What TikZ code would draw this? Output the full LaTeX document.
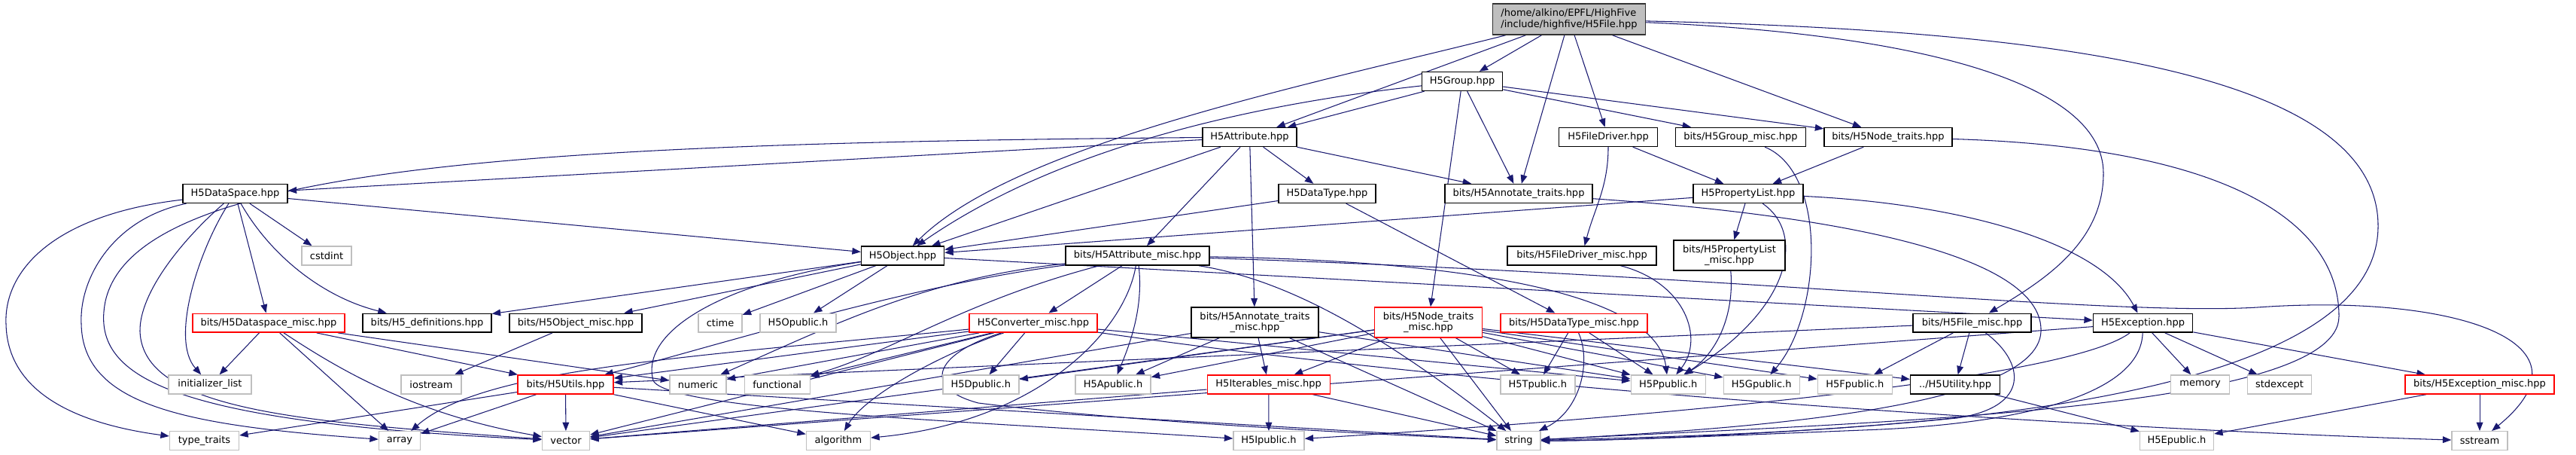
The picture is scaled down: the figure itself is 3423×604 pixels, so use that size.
\documentclass[tikz,border=0pt]{standalone}
\usepackage{fontspec}
\setmainfont{DejaVu Sans}
\usetikzlibrary{arrows.meta,backgrounds}
\definecolor{edgec}{RGB}{25,25,112}
\definecolor{grayb}{RGB}{191,191,191}
\definecolor{rootfill}{RGB}{191,191,191}
\begin{document}
\begin{tikzpicture}[x=0.02cm,y=-0.02cm,
  nbase/.style={draw, fill=white, line width=0.8pt, inner sep=1pt, minimum height=0.5cm, font=\fontsize{7.4}{8.1}\selectfont, text=black, align=center},
  bk/.style={nbase, draw=black},
  gr/.style={nbase, draw=grayb},
  rd/.style={nbase, draw=red},
  two/.style={minimum height=0.8cm},
  rootbox/.style={nbase, draw=black!80, fill=rootfill, minimum height=0.82cm, align=left},
  bw/.style={minimum width=#1*0.02cm},
  ed/.style={draw=edgec, line width=0.6pt, -{Triangle[length=6.5pt,width=5pt]}}]
\useasboundingbox (0,0) rectangle (3423,604);
% ---------- nodes ----------
\node[rootbox, bw=203] (root) at (2085,25.5) {/home/alkino/EPFL/HighFive\\/include/highfive/H5File.hpp};
\node[bk, bw=107] (grp) at (1943,108) {H5Group.hpp};
\node[bk, bw=125] (attr) at (1660.5,182) {H5Attribute.hpp};
\node[bk, bw=131] (fd) at (2137,182) {H5FileDriver.hpp};
\node[bk, bw=173] (gm) at (2313,182) {bits/H5Group\_misc.hpp};
\node[bk, bw=170] (nt) at (2509,182) {bits/H5Node\_traits.hpp};
\node[bk, bw=139] (ds) at (312.5,257) {H5DataSpace.hpp};
\node[bk, bw=129] (dt) at (1763.5,257) {H5DataType.hpp};
\node[bk, bw=196] (at) at (2018,257) {bits/H5Annotate\_traits.hpp};
\node[bk, bw=146] (pl) at (2323,257) {H5PropertyList.hpp};
\node[gr, bw=66] (cst) at (434,339.5) {cstdint};
\node[bk, bw=110] (obj) at (1199.5,339.5) {H5Object.hpp};
\node[bk, bw=191] (am) at (1511.5,339.5) {bits/H5Attribute\_misc.hpp};
\node[bk, bw=198] (fdm) at (2102,339.5) {bits/H5FileDriver\_misc.hpp};
\node[bk, two, bw=148] (plm) at (2298,339) {bits/H5PropertyList\\\_misc.hpp};
\node[rd, bw=202] (dsm) at (357,428.7) {bits/H5Dataspace\_misc.hpp};
\node[bk, bw=171] (hdef) at (567.5,428.7) {bits/H5\_definitions.hpp};
\node[bk, bw=176] (om) at (765,428.7) {bits/H5Object\_misc.hpp};
\node[gr, bw=58] (ctime) at (957,428.7) {ctime};
\node[gr, bw=101] (opub) at (1060.5,428.7) {H5Opublic.h};
\node[rd, bw=170] (conv) at (1373,428.7) {H5Converter\_misc.hpp};
\node[bk, two, bw=169] (atm) at (1667.5,428) {bits/H5Annotate\_traits\\\_misc.hpp};
\node[rd, two, bw=143] (ntm) at (1898,428) {bits/H5Node\_traits\\\_misc.hpp};
\node[rd, bw=195] (dtm) at (2091.5,428.7) {bits/H5DataType\_misc.hpp};
\node[bk, bw=157] (fm) at (2620.5,428.7) {bits/H5File\_misc.hpp};
\node[bk, bw=132] (exc) at (2847.5,428.7) {H5Exception.hpp};
\node[gr, bw=110] (il) at (279,510.5) {initializer\_list};
\node[gr, bw=80] (ios) at (573,510.5) {iostream};
\node[rd, bw=127] (utl) at (751.5,510.5) {bits/H5Utils.hpp};
\node[gr, bw=75] (num) at (927.5,510.5) {numeric};
\node[gr, bw=87] (func) at (1032.7,510.5) {functional};
\node[gr, bw=101] (dpub) at (1303.3,510.5) {H5Dpublic.h};
\node[gr, bw=100] (apub) at (1479,510.5) {H5Apublic.h};
\node[rd, bw=163] (itm) at (1685.7,510.5) {H5Iterables\_misc.hpp};
\node[gr, bw=99] (tpub) at (2043.3,510.5) {H5Tpublic.h};
\node[gr, bw=99] (ppub) at (2216.7,510.5) {H5Ppublic.h};
\node[gr, bw=101] (gpub) at (2340.7,510.5) {H5Gpublic.h};
\node[gr, bw=99] (fpub) at (2464.8,510.5) {H5Fpublic.h};
\node[bk, bw=119] (uty) at (2598,510.5) {../H5Utility.hpp};
\node[gr, bw=78] (mem) at (2923.5,510.5) {memory};
\node[gr, bw=85] (stde) at (3029,510.5) {stdexcept};
\node[rd, bw=198] (excm) at (3295,510.5) {bits/H5Exception\_misc.hpp};
\node[gr, bw=92] (tt) at (271.5,585.2) {type\_traits};
\node[gr, bw=55] (arr) at (531,585.2) {array};
\node[gr, bw=63] (vec) at (752,585.2) {vector};
\node[gr, bw=85] (alg) at (1114,585.2) {algorithm};
\node[gr, bw=94] (ipub) at (1686,585.2) {H5Ipublic.h};
\node[gr, bw=58] (str) at (2018,585.2) {string};
\node[gr, bw=98] (epub) at (2892.5,585.2) {H5Epublic.h};
\node[gr, bw=74] (ss) at (3295,585.2) {sstream};
% ---------- edges ----------
\begin{pgfonlayer}{background}
% H5File
\draw[ed] (root) -- (grp);
\draw[ed] (root) -- (attr);
\draw[ed] (root) .. controls (1750,110) and (1350,190) .. (obj);
\draw[ed] (root) -- (at);
\draw[ed] (root) -- (fd);
\draw[ed] (root) -- (nt);
\draw[ed] (root) .. controls (2550,45) and (2795,110) .. (2795,230) .. controls (2795,320) and (2720,370) .. (fm);
\draw[ed] (root) .. controls (2700,40) and (3160,90) .. (3160,300) .. controls (3160,560) and (2400,575) .. (str);
% H5Group
\draw[ed] (grp) .. controls (1650,140) and (1400,200) .. (obj);
\draw[ed] (grp) -- (attr);
\draw[ed] (grp) -- (ntm);
\draw[ed] (grp) -- (at);
\draw[ed] (grp) -- (gm);
\draw[ed] (grp) -- (nt);
% H5Attribute
\draw[ed] (attr) -- (ds);
\draw[ed] (attr) .. controls (700,190) and (180,220) .. (140,400) .. controls (120,500) and (220,560) .. (vec);
\draw[ed] (attr) -- (obj);
\draw[ed] (attr) -- (am);
\draw[ed] (attr) -- (atm);
\draw[ed] (attr) -- (dt);
\draw[ed] (attr) -- (at);
% H5FileDriver, H5Group_misc, H5Node_traits
\draw[ed] (fd) -- (pl);
\draw[ed] (fd) to[out=-90,in=75] (fdm);
\draw[ed] (gm) .. controls (2430,230) and (2420,420) .. (gpub);
\draw[ed] (nt) -- (pl);
\draw[ed] (nt) .. controls (2950,195) and (3108,290) .. (3108,420) .. controls (3108,545) and (2500,560) .. (str);
% H5DataSpace
\draw[ed] (ds) -- (obj);
\draw[ed] (ds) -- (cst);
\draw[ed] (ds) -- (dsm);
\draw[ed] (ds) .. controls (360,340) and (430,395) .. (hdef);
\draw[ed] (ds) .. controls (265,330) and (225,450) .. (il);
\draw[ed] (ds) .. controls (70,285) and (5,360) .. (8,430) .. controls (10,530) and (120,565) .. (tt);
\draw[ed] (ds) .. controls (150,290) and (105,370) .. (108,430) .. controls (110,540) and (250,565) .. (arr);
\draw[ed] (ds) .. controls (240,320) and (185,390) .. (186,440) .. controls (190,545) and (400,560) .. (vec);
% H5Object
\draw[ed] (obj) -- (hdef);
\draw[ed] (obj) -- (om);
\draw[ed] (obj) -- (ctime);
\draw[ed] (obj) -- (opub);
\draw[ed] (obj) -- (exc);
\draw[ed] (obj) .. controls (960,375) and (850,440) .. (868,505) .. controls (885,545) and (1300,560) .. (ipub);
% H5DataType, H5Annotate_traits, H5PropertyList
\draw[ed] (dt) -- (obj);
\draw[ed] (dt) -- (dtm);
\draw[ed] (at) .. controls (2500,290) and (2715,350) .. (2712,440) .. controls (2708,545) and (2300,570) .. (str);
\draw[ed] (pl) -- (obj);
\draw[ed] (pl) -- (plm);
\draw[ed] (pl) .. controls (2400,310) and (2380,410) .. (ppub);
\draw[ed] (pl) .. controls (2600,270) and (2790,320) .. (exc);
\draw[ed] (fdm) .. controls (2240,375) and (2265,450) .. (ppub);
\draw[ed] (plm) .. controls (2305,420) and (2280,470) .. (ppub);
% H5Attribute_misc
\draw[ed] (am) -- (conv);
\draw[ed] (am) .. controls (1520,410) and (1500,460) .. (apub);
\draw[ed] (am) .. controls (1495,440) and (1380,560) .. (alg);
\draw[ed] (am) .. controls (1230,370) and (1110,430) .. (num);
\draw[ed] (am) .. controls (1280,400) and (1180,470) .. (func);
\draw[ed] (am) .. controls (1200,380) and (950,460) .. (utl);
\draw[ed] (am) .. controls (1900,345) and (2200,380) .. (ppub);
\draw[ed] (am) .. controls (2300,365) and (2800,420) .. (3000,408) .. controls (3250,390) and (3460,450) .. (ss);
\draw[ed] (am) .. controls (1700,370) and (1820,430) .. (str);
% H5Converter_misc
\draw[ed] (conv) -- (dpub);
\draw[ed] (conv) .. controls (1250,470) and (1150,525) .. (alg);
\draw[ed] (conv) .. controls (1240,470) and (1225,515) .. (1300,535) .. controls (1500,560) and (1800,575) .. (str);
\draw[ed] (conv) -- (utl);
\draw[ed] (conv) -- (num);
\draw[ed] (conv) -- (func);
\draw[ed] (conv) -- (vec);
\draw[ed] (conv) .. controls (900,475) and (640,490) .. (arr);
\draw[ed] (conv) -- (ppub);
\draw[ed] (conv) .. controls (2000,520) and (2800,570) .. (ss);
% H5Annotate_traits_misc
\draw[ed] (atm) -- (itm);
\draw[ed] (atm) -- (apub);
\draw[ed] (atm) -- (vec);
\draw[ed] (atm) -- (str);
\draw[ed] (atm) -- (ppub);
% H5Iterables_misc
\draw[ed] (itm) -- (ipub);
\draw[ed] (itm) -- (str);
\draw[ed] (itm) -- (vec);
% H5Node_traits_misc
\draw[ed] (ntm) -- (itm);
\draw[ed] (ntm) -- (str);
\draw[ed] (ntm) -- (tpub);
\draw[ed] (ntm) -- (ppub);
\draw[ed] (ntm) -- (gpub);
\draw[ed] (ntm) -- (fpub);
\draw[ed] (ntm) -- (uty);
\draw[ed] (ntm) -- (dpub);
\draw[ed] (ntm) -- (apub);
\draw[ed] (ntm) -- (vec);
% H5DataType_misc
\draw[ed] (dtm) -- (tpub);
\draw[ed] (dtm) -- (ppub);
\draw[ed] (dtm) .. controls (2115,480) and (2100,545) .. (str);
% H5File_misc
\draw[ed] (fm) -- (fpub);
\draw[ed] (fm) -- (uty);
\draw[ed] (fm) -- (utl);
\draw[ed] (fm) .. controls (2690,480) and (2700,540) .. (2600,555) .. controls (2400,575) and (2150,585) .. (str);
% H5Exception
\draw[ed] (exc) -- (mem);
\draw[ed] (exc) -- (stde);
\draw[ed] (exc) -- (excm);
\draw[ed] (exc) -- (vec);
\draw[ed] (exc) .. controls (2740,510) and (2100,560) .. (ipub);
\draw[ed] (exc) .. controls (2845,520) and (2700,560) .. (2500,570) .. controls (2300,578) and (2150,585) .. (str);
% H5Utils
\draw[ed] (utl) -- (tt);
\draw[ed] (utl) -- (arr);
\draw[ed] (utl) -- (vec);
\draw[ed] (utl) -- (alg);
\draw[ed] (utl) -- (str);
% H5Dataspace_misc
\draw[ed] (dsm) -- (il);
\draw[ed] (dsm) -- (arr);
\draw[ed] (dsm) .. controls (450,490) and (550,550) .. (vec);
\draw[ed] (dsm) -- (utl);
\draw[ed] (dsm) -- (num);
% misc
\draw[ed] (om) -- (ios);
\draw[ed] (excm) -- (ss);
\draw[ed] (excm) -- (epub);
\draw[ed] (uty) -- (epub);
\end{pgfonlayer}
\end{tikzpicture}
\end{document}
